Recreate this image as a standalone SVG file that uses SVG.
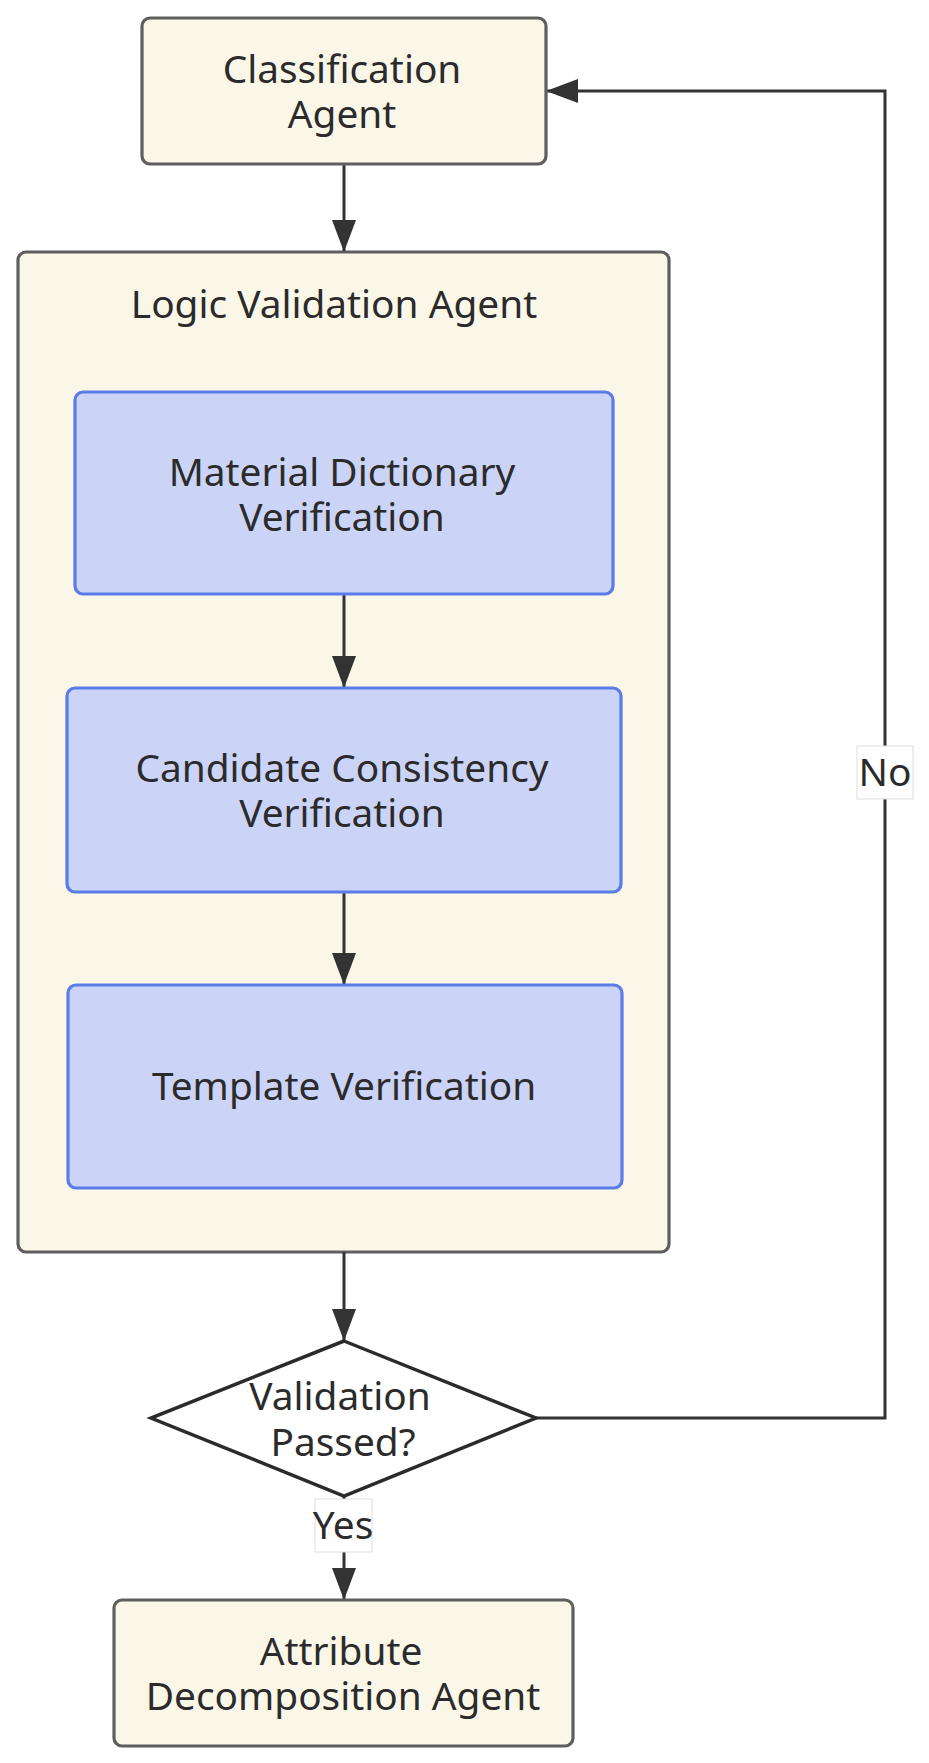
<svg xmlns="http://www.w3.org/2000/svg" width="929" height="1763" viewBox="0 0 929 1763">
<style>
text{font-family:"Noto Sans","Open Sans","DejaVu Sans",sans-serif;font-size:38.8px;fill:#2b2b2b;text-anchor:middle}
.agent{fill:#fbf7e8;stroke:#5e5e5e;stroke-width:3.2}
.ver{fill:#cbd4f7;stroke:#5a7ce8;stroke-width:3.2}
.edge{fill:none;stroke:#333;stroke-width:3}
.lbl{fill:#fff;stroke:#ddd;stroke-width:1}
</style>
<defs>
<marker id="arr" markerUnits="userSpaceOnUse" markerWidth="32" markerHeight="24" viewBox="0 0 32 24" refX="31" refY="12" orient="auto">
<path d="M0,0 L32,12 L0,24 z" fill="#333"/>
</marker>
</defs>
<g id="logic-validation-agent">
<rect class="agent" x="18" y="252" width="651" height="1000" rx="8"/>
<text x="334" y="318">Logic Validation Agent</text>
</g>
<g id="connectors">
<line class="edge" x1="344" y1="164" x2="344" y2="251" marker-end="url(#arr)"/>
<line class="edge" x1="344" y1="594" x2="344" y2="687" marker-end="url(#arr)"/>
<line class="edge" x1="344" y1="892" x2="344" y2="984" marker-end="url(#arr)"/>
<line class="edge" x1="344" y1="1252" x2="344" y2="1340" marker-end="url(#arr)"/>
<line class="edge" x1="344" y1="1496" x2="344" y2="1599" marker-end="url(#arr)"/>
<path class="edge" d="M536,1418 H885 V91 H547" marker-end="url(#arr)"/>
<rect class="lbl" x="315" y="1499" width="57" height="53"/>
<text x="343" y="1539">Yes</text>
<rect class="lbl" x="857" y="746" width="56" height="53"/>
<text x="885" y="786">No</text>
</g>
<g id="classification-agent">
<rect class="agent" x="142" y="18" width="404" height="146" rx="8"/>
<text x="342" y="83">Classification<tspan x="342" dy="45">Agent</tspan></text>
</g>
<g id="material-dictionary-verification">
<rect class="ver" x="75" y="392" width="538" height="202" rx="8"/>
<text x="342" y="486">Material Dictionary<tspan x="342" dy="45">Verification</tspan></text>
</g>
<g id="candidate-consistency-verification">
<rect class="ver" x="67" y="688" width="554" height="204" rx="8"/>
<text x="342" y="782">Candidate Consistency<tspan x="342" dy="45">Verification</tspan></text>
</g>
<g id="template-verification">
<rect class="ver" x="68" y="985" width="554" height="203" rx="8"/>
<text x="344" y="1100">Template Verification</text>
</g>
<g id="validation-passed">
<polygon points="344,1341 536,1418 344,1496 151,1418" fill="#fff" stroke="#2b2b2b" stroke-width="3.5"/>
<text x="340" y="1410">Validation<tspan x="343" dy="46">Passed?</tspan></text>
</g>
<g id="attribute-decomposition-agent">
<rect class="agent" x="114" y="1600" width="459" height="146" rx="8"/>
<text x="341" y="1665">Attribute<tspan x="343" dy="45">Decomposition Agent</tspan></text>
</g>
</svg>
